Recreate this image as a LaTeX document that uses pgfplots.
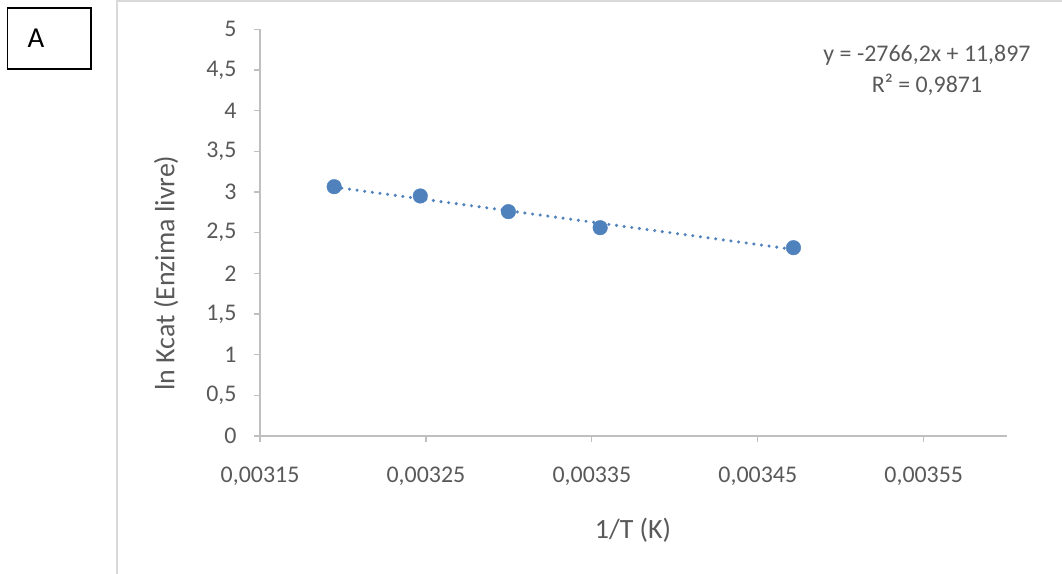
\documentclass[border=0pt]{standalone}
\usepackage{pgfplots}
\pgfplotsset{compat=1.18}
\usepackage{fontspec}
\setmainfont{Carlito}
\definecolor{txt}{HTML}{595959}
\definecolor{axgray}{HTML}{BFBFBF}
\definecolor{framegray}{HTML}{D9D9D9}
\definecolor{xlblue}{HTML}{4F81BD}
\pgfplotstableread{
x y
0.0031947 3.065
0.0032466 2.951
0.0032997 2.758
0.0033550 2.561
0.0034715 2.315
}\kcat
\begin{document}
\begin{tikzpicture}
\path[use as bounding box] (0bp,0bp) rectangle (1062bp,574bp);
\draw[framegray, line width=2bp] (117bp,-5bp) -- (117bp,573bp) -- (1070bp,573bp);
\draw[black, line width=1.5bp] (7.5bp,566bp) rectangle (91bp,505bp);
\node[font=\fontsize{29}{34}\selectfont, text=black] at (36bp,536bp) {A};
\begin{axis}[
  at={(260bp,138bp)}, anchor=south west,
  scale only axis, width=746.7bp, height=406.7bp,
  xmin=0.00315, xmax=0.0036, ymin=0, ymax=5,
  axis x line*=bottom, axis y line*=left,
  scaled x ticks=false,
  xtick={0.00315,0.00325,0.00335,0.00345,0.00355},
  xticklabels={{0,00315},{0,00325},{0,00335},{0,00345},{0,00355}},
  ytick={0,0.5,1,1.5,2,2.5,3,3.5,4,4.5,5},
  yticklabels={0,{0,5},1,{1,5},2,{2,5},3,{3,5},4,{4,5},5},
  tick align=outside, major tick length=6bp,
  tick style={axgray, line width=1.2bp},
  axis line style={axgray, line width=1.2bp},
  ticklabel style={text=txt, font=\fontsize{24}{28}\selectfont},
  xticklabel style={yshift=-21bp},
  yticklabel style={xshift=-14bp},
  clip=false,
]
\addplot[xlblue, line width=3.4bp, line cap=round, dash pattern=on 0bp off 7.7bp]
  coordinates {(0.0031947,3.0598) (0.0034715,2.2941)};
\addplot[only marks, mark=*, mark size=7.3bp, mark options={fill=xlblue, draw=xlblue}] table[x=x,y=y] {\kcat};
\end{axis}
\node[text=txt, font=\fontsize{28}{34}\selectfont] at (633bp,44bp) {1/T (K)};
\node[text=txt, font=\fontsize{28}{34}\selectfont, rotate=90] at (166bp,301bp) {ln Kcat (Enzima livre)};
\node[text=txt, font=\fontsize{24}{28}\selectfont] at (927bp,519bp) {y = -2766,2x + 11,897};
\node[text=txt, font=\fontsize{24}{28}\selectfont] at (927bp,489bp) {R² = 0,9871};
\end{tikzpicture}
\end{document}
